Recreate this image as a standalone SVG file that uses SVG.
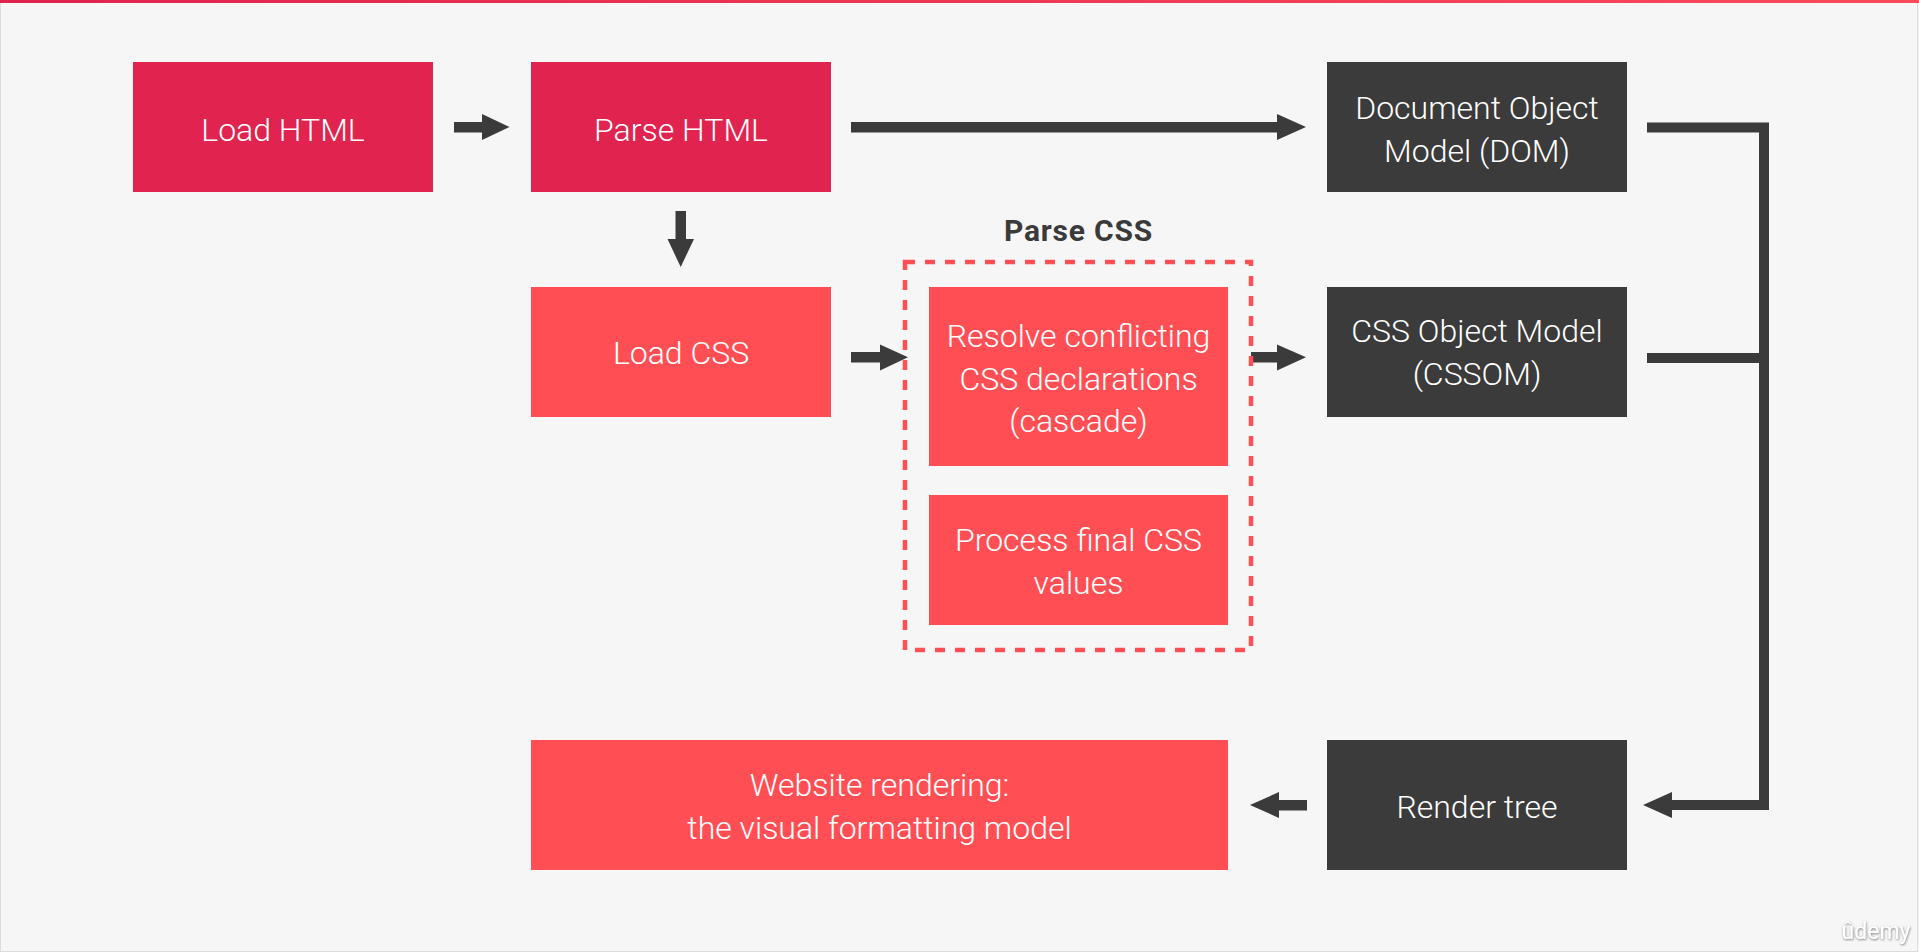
<svg xmlns="http://www.w3.org/2000/svg" width="1919" height="952" viewBox="0 0 1919 952">
  <style>
    .lbl { font-family: "Roboto Light", Roboto, "Liberation Sans", sans-serif; font-weight: 300; font-size: 32px; fill: #ffffff; text-anchor: middle; }
    .title { font-family: Roboto, "Liberation Sans", sans-serif; font-weight: 700; font-size: 30px; letter-spacing: 0.8px; fill: #3a3a3a; text-anchor: middle; }
    .crimson { fill: #e0244f; }
    .coral { fill: #ff4f55; }
    .dark { fill: #3b3b3b; }
    .conn { fill: none; stroke: #3b3b3b; stroke-width: 10; stroke-linejoin: miter; }
    .head { fill: #3b3b3b; }
  </style>
  <defs>
    <linearGradient id="topbar" x1="0" y1="0" x2="1" y2="0">
      <stop offset="0" stop-color="#e0234e"/>
      <stop offset="1" stop-color="#fb4a5c"/>
    </linearGradient>
    <filter id="wm" x="-20%" y="-40%" width="140%" height="180%">
      <feDropShadow dx="0.5" dy="1" stdDeviation="1" flood-color="#6a6a6a" flood-opacity="0.9"/>
    </filter>
  </defs>

  <rect x="0" y="0" width="1919" height="952" fill="#f6f6f6"/>
  <rect x="0.5" y="0.5" width="1917" height="951" fill="none" stroke="#dcdcdc" stroke-width="1"/>
  <rect x="0" y="0" width="1919" height="3" fill="url(#topbar)"/>

  <g id="connectors">
    <!-- Load HTML -> Parse HTML -->
    <rect class="head" x="454" y="122" width="29" height="10.5"/>
    <polygon class="head" points="482,114 509.5,127 482,140"/>
    <!-- Parse HTML -> DOM -->
    <rect class="head" x="851" y="122" width="427" height="10.5"/>
    <polygon class="head" points="1277,114 1306,127 1277,140"/>
    <!-- Parse HTML -> Load CSS -->
    <rect class="head" x="675.5" y="211" width="10.5" height="29"/>
    <polygon class="head" points="667.5,239 694,239 680.7,267"/>
    <!-- Load CSS -> Parse CSS group -->
    <rect class="head" x="851" y="352" width="30" height="10.5"/>
    <polygon class="head" points="880,344.5 908,357.3 880,370.5"/>
    <!-- Parse CSS group -> CSSOM -->
    <rect class="head" x="1251" y="352" width="27" height="10.5"/>
    <polygon class="head" points="1277,344.5 1306,357.3 1277,370.5"/>
    <!-- DOM / CSSOM -> Render tree bracket -->
    <path class="conn" d="M1647,127.5 H1764 V805 H1670"/>
    <path class="conn" d="M1647,358 H1764"/>
    <polygon class="head" points="1672,792 1643,805 1672,818"/>
    <!-- Render tree -> Website rendering -->
    <rect class="head" x="1277" y="800" width="30" height="10.5"/>
    <polygon class="head" points="1279,792 1250,805 1279,818"/>
  </g>

  <g id="parse-css-group">
    <rect x="905" y="262" width="346" height="388" fill="none" stroke="#ff4f55" stroke-width="4.5" stroke-dasharray="10 10"/>
    <text class="title" x="1078.5" y="241">Parse CSS</text>
  </g>

  <g id="load-html">
    <rect class="crimson" x="133" y="62" width="300" height="130"/>
    <text class="lbl" x="283" y="140.5">Load HTML</text>
  </g>

  <g id="parse-html">
    <rect class="crimson" x="531" y="62" width="300" height="130"/>
    <text class="lbl" x="681" y="140.5">Parse HTML</text>
  </g>

  <g id="load-css">
    <rect class="coral" x="531" y="287" width="300" height="130"/>
    <text class="lbl" x="681" y="364">Load CSS</text>
  </g>

  <g id="resolve">
    <rect class="coral" x="929" y="287" width="299" height="179"/>
    <text class="lbl" x="1078.5" y="347">Resolve conflicting</text>
    <text class="lbl" x="1078.5" y="389.5">CSS declarations</text>
    <text class="lbl" x="1078.5" y="432">(cascade)</text>
  </g>

  <g id="process">
    <rect class="coral" x="929" y="495" width="299" height="130"/>
    <text class="lbl" x="1078.5" y="551">Process final CSS</text>
    <text class="lbl" x="1078.5" y="593.5">values</text>
  </g>

  <g id="dom">
    <rect class="dark" x="1327" y="62" width="300" height="130"/>
    <text class="lbl" x="1477" y="119">Document Object</text>
    <text class="lbl" x="1477" y="161.5">Model (DOM)</text>
  </g>

  <g id="cssom">
    <rect class="dark" x="1327" y="287" width="300" height="130"/>
    <text class="lbl" x="1477" y="342">CSS Object Model</text>
    <text class="lbl" x="1477" y="384.5">(CSSOM)</text>
  </g>

  <g id="render-tree">
    <rect class="dark" x="1327" y="740" width="300" height="130"/>
    <text class="lbl" x="1477" y="817.5">Render tree</text>
  </g>

  <g id="website-rendering">
    <rect class="coral" x="531" y="740" width="697" height="130"/>
    <text class="lbl" x="879.5" y="796">Website rendering:</text>
    <text class="lbl" x="879.5" y="838.5">the visual formatting model</text>
  </g>

  <text x="1876" y="939" font-family="Roboto, 'Liberation Sans', sans-serif" font-size="23" fill="#ffffff" text-anchor="middle" filter="url(#wm)">ûdemy</text>
</svg>
